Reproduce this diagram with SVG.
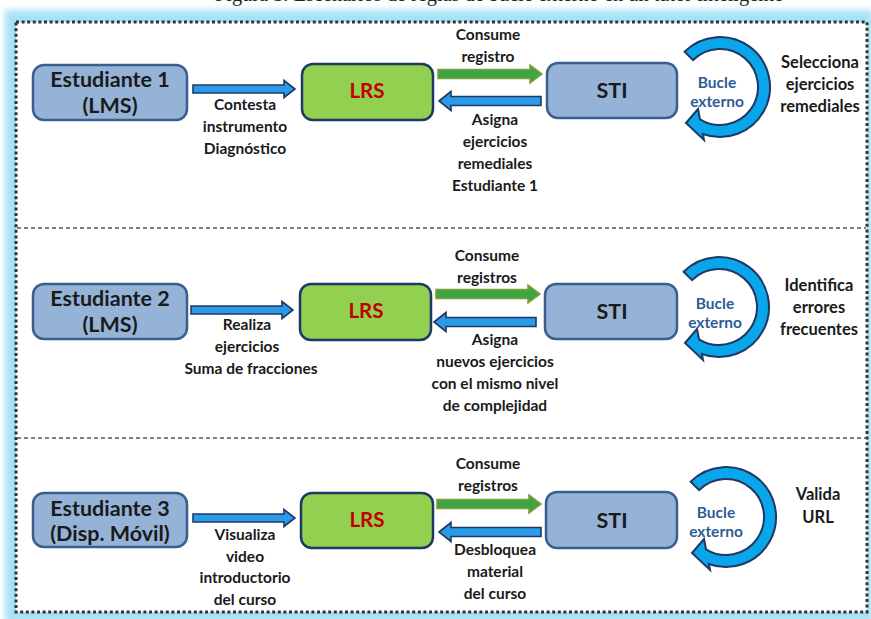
<svg xmlns="http://www.w3.org/2000/svg" width="871" height="619" viewBox="0 0 871 619">
  <defs>
    <style>
      .box { fill: #95B3D7; stroke: #3A5F8F; stroke-width: 2.5; }
      .lrs { fill: #92D050; stroke: #1F3864; stroke-width: 2.5; }
      .ntxt { font-family: Lato, "Liberation Sans", sans-serif; font-weight: bold; font-size: 21.5px; fill: #1a1a1a; text-anchor: middle; }
      .lrstxt { font-family: Lato, "Liberation Sans", sans-serif; font-weight: bold; font-size: 20.5px; fill: #C00000; text-anchor: middle; }
      .lbl { font-family: Lato, "Liberation Sans", sans-serif; font-weight: bold; font-size: 15.5px; fill: #1a1a1a; text-anchor: middle; }
      .rule { font-family: Lato, "Liberation Sans", sans-serif; font-weight: bold; font-size: 16.5px; fill: #1a1a1a; text-anchor: middle; }
      .loop { font-family: Lato, "Liberation Sans", sans-serif; font-weight: bold; font-size: 15.5px; fill: #2E5C96; text-anchor: middle; }
      .blue { fill: #2A9BE8; stroke: #1F3864; stroke-width: 1.6; stroke-linejoin: miter; }
      .green { fill: #3FA443; stroke: #7E9F3A; stroke-width: 1.6; }
      .circ { fill: #0AA6EC; stroke: #1F3864; stroke-width: 2; stroke-linejoin: miter; }
      .sep { stroke: #555; stroke-width: 1.3; stroke-dasharray: 4 3; fill: none; }
      .frame { fill: #fff; stroke: #333; stroke-width: 3; stroke-dasharray: 3 2.6; }
      .caption { font-family: "Liberation Serif", serif; font-size: 20px; fill: #222; }
    </style>
    <filter id="glow" x="-5%" y="-5%" width="110%" height="110%">
      <feGaussianBlur stdDeviation="3"/>
    </filter>
    <!-- right-pointing blue arrow, 102 long -->
    <path id="arrR" d="M0,-4 H91 V-8.5 L102,0 L91,8.5 V4 H0 Z"/>
    <!-- green forward arrow, 104 long -->
    <path id="arrG" d="M0,-4.5 H92 V-9 L104,0 L92,9 V4.5 H0 Z"/>
    <!-- left-pointing blue return arrow, 102 long -->
    <path id="arrL" d="M0,0 L12,-9.5 V-4.5 H102 V4.5 H12 V9.5 Z"/>
    <!-- circular "bucle" arrow around a centre at 0,0, head pointing left -->
    <path id="loopArrow" d="M-35.36,-35.36 A50,50 0 1 1 -17.17,46.96 L-16,53 L-34,36 L-22,22 L-20,32.3 A38,38 0 1 0 -26.87,-26.87 Z"/>
  </defs>

  <!-- caption line, cut by the top edge -->
  <text class="caption" x="215" y="1" textLength="568" lengthAdjust="spacingAndGlyphs">Figura 3. Escenarios de reglas de bucle externo en un tutor inteligente</text>

  <!-- panel with soft cyan glow and dotted border -->
  <rect x="5" y="10" width="868" height="612" fill="#A6E2F5" filter="url(#glow)"/>
  <rect class="frame" x="16" y="22" width="851" height="590"/>
  <line class="sep" x1="17" y1="228" x2="866" y2="228"/>
  <line class="sep" x1="17" y1="438" x2="866" y2="438"/>

  <!-- ===== Scenario 1 ===== -->
  <g id="estudiante1">
    <rect class="box" x="33" y="65" width="154" height="55" rx="11"/>
    <text class="ntxt" x="110" y="87">Estudiante 1</text>
    <text class="ntxt" x="110" y="113">(LMS)</text>
  </g>
  <g id="lrs1">
    <rect class="lrs" x="302" y="64" width="131" height="56" rx="11"/>
    <text class="lrstxt" x="367" y="98">LRS</text>
  </g>
  <g id="sti1">
    <rect class="box" x="547" y="63" width="130" height="55" rx="11"/>
    <text class="ntxt" x="612" y="98">STI</text>
  </g>
  <g id="bucle1">
    <use href="#loopArrow" class="circ" transform="translate(720,87)"/>
    <text class="loop" x="717" y="88">Bucle</text>
    <text class="loop" x="717" y="107">externo</text>
  </g>
  <g id="regla1">
    <text class="rule" x="820" y="68">Selecciona</text>
    <text class="rule" x="820" y="90">ejercicios</text>
    <text class="rule" x="820" y="112">remediales</text>
  </g>

  <!-- ===== Scenario 2 ===== -->
  <g id="estudiante2">
    <rect class="box" x="33" y="284" width="154" height="55" rx="11"/>
    <text class="ntxt" x="110" y="306">Estudiante 2</text>
    <text class="ntxt" x="110" y="332">(LMS)</text>
  </g>
  <g id="lrs2">
    <rect class="lrs" x="300" y="284" width="131" height="56" rx="11"/>
    <text class="lrstxt" x="366" y="318">LRS</text>
  </g>
  <g id="sti2">
    <rect class="box" x="545" y="284" width="132" height="55" rx="11"/>
    <text class="ntxt" x="612" y="319">STI</text>
  </g>
  <g id="bucle2">
    <use href="#loopArrow" class="circ" transform="translate(719,307)"/>
    <text class="loop" x="715" y="309">Bucle</text>
    <text class="loop" x="715" y="328">externo</text>
  </g>
  <g id="regla2">
    <text class="rule" x="819" y="291">Identifica</text>
    <text class="rule" x="819" y="313">errores</text>
    <text class="rule" x="819" y="335">frecuentes</text>
  </g>

  <!-- ===== Scenario 3 ===== -->
  <g id="estudiante3">
    <rect class="box" x="33" y="493" width="154" height="54" rx="11"/>
    <text class="ntxt" x="110" y="516">Estudiante 3</text>
    <text class="ntxt" x="110" y="541">(Disp. Móvil)</text>
  </g>
  <g id="lrs3">
    <rect class="lrs" x="301" y="493" width="132" height="55" rx="11"/>
    <text class="lrstxt" x="367" y="527">LRS</text>
  </g>
  <g id="sti3">
    <rect class="box" x="546" y="492" width="131" height="56" rx="11"/>
    <text class="ntxt" x="612" y="528">STI</text>
  </g>
  <g id="bucle3">
    <use href="#loopArrow" class="circ" transform="translate(726,517)"/>
    <text class="loop" x="716" y="518">Bucle</text>
    <text class="loop" x="716" y="537">externo</text>
  </g>
  <g id="regla3">
    <text class="rule" x="818" y="500">Valida</text>
    <text class="rule" x="818" y="523">URL</text>
  </g>

  <!-- ===== connectors ===== -->
  <g id="connectors">
    <!-- scenario 1 -->
    <use href="#arrR" class="blue" transform="translate(193,89)"/>
    <use href="#arrG" class="green" transform="translate(438,74)"/>
    <use href="#arrL" class="blue" transform="translate(439,101)"/>
    <!-- scenario 2 -->
    <use href="#arrR" class="blue" transform="translate(191,310)"/>
    <use href="#arrG" class="green" transform="translate(436,294)"/>
    <use href="#arrL" class="blue" transform="translate(434,322)"/>
    <!-- scenario 3 -->
    <use href="#arrR" class="blue" transform="translate(193,518)"/>
    <use href="#arrG" class="green" transform="translate(437,504)"/>
    <use href="#arrL" class="blue" transform="translate(439,532)"/>
  </g>

  <!-- connector labels -->
  <g id="labels">
    <text class="lbl" x="245" y="110">Contesta</text>
    <text class="lbl" x="245" y="132">instrumento</text>
    <text class="lbl" x="245" y="154">Diagnóstico</text>
    <text class="lbl" x="488" y="40">Consume</text>
    <text class="lbl" x="488" y="62">registro</text>
    <text class="lbl" x="495" y="125">Asigna</text>
    <text class="lbl" x="495" y="147">ejercicios</text>
    <text class="lbl" x="495" y="169">remediales</text>
    <text class="lbl" x="495" y="191">Estudiante 1</text>

    <text class="lbl" x="247" y="330">Realiza</text>
    <text class="lbl" x="247" y="352">ejercicios</text>
    <text class="lbl" x="251" y="374">Suma de fracciones</text>
    <text class="lbl" x="487" y="261">Consume</text>
    <text class="lbl" x="487" y="283">registros</text>
    <text class="lbl" x="495" y="345">Asigna</text>
    <text class="lbl" x="495" y="367">nuevos ejercicios</text>
    <text class="lbl" x="495" y="389">con el mismo nivel</text>
    <text class="lbl" x="495" y="411">de complejidad</text>

    <text class="lbl" x="245" y="540">Visualiza</text>
    <text class="lbl" x="245" y="562">video</text>
    <text class="lbl" x="245" y="583">introductorio</text>
    <text class="lbl" x="245" y="605">del curso</text>
    <text class="lbl" x="488" y="469">Consume</text>
    <text class="lbl" x="488" y="491">registros</text>
    <text class="lbl" x="495" y="555">Desbloquea</text>
    <text class="lbl" x="495" y="577">material</text>
    <text class="lbl" x="495" y="599">del curso</text>
  </g>
</svg>
